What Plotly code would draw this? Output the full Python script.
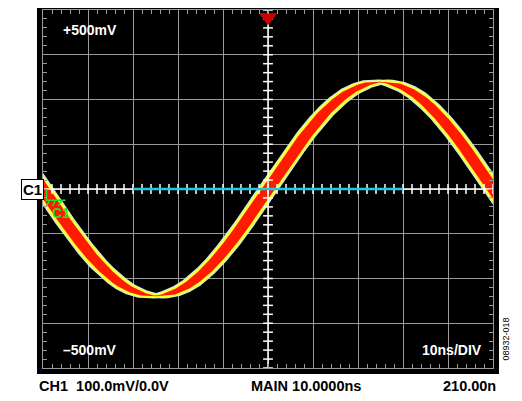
import numpy as np
import plotly.graph_objects as go

t_ns = [0, 2.5, 5, 7.5, 10, 12.5, 15, 17.5, 20, 22.5, 25, 27.5, 30, 32.5, 35, 37.5, 40, 42.5, 45, 47.5,
        50, 52.5, 55, 57.5, 60, 62.5, 65, 67.5, 70, 72.5, 75, 77.5, 80, 82.5, 85, 87.5, 90, 92.5, 95, 97.5, 100]
v_mv = [0, -37, -74, -109, -141, -170, -194, -214, -228, -237, -240, -237, -228, -214, -194, -170, -141, -109, -74, -37,
        0, 37, 74, 109, 141, 170, 194, 214, 228, 237, 240, 237, 228, 214, 194, 170, 141, 109, 74, 37, 0]
jitter_outer_ns = 1.9
jitter_inner_ns = 1.5
noise_outer_mv = 3
noise_inner_mv = 0
ref_line_ns = [20, 80]

O = 8  # browser page margin
W, H = 522, 401
L, T = 43 - O, 10 - O
PW, PH = 450, 358
R, B = W - L - PW, H - T - PH
def px(x): return (x - O - L) / PW
def py(y): return (H - B - (y - O)) / PH

tf = np.linspace(-5, 105, 2201)
tt = np.array(t_ns, float); vv = np.array(v_mv, float)
te = np.concatenate([tt[:-1] - 100, tt, tt[1:] + 100]); ve = np.concatenate([vv[:-1], vv, vv[1:]])
def band(j, a):
    a1 = np.interp(tf - j, te, ve); a2 = np.interp(tf + j, te, ve); a0 = np.interp(tf, te, ve)
    return np.maximum(np.maximum(a1, a2), a0) + a, np.minimum(np.minimum(a1, a2), a0) - a

fig = go.Figure()
def add_band(j, a, color):
    up, lo = band(j, a)
    fig.add_trace(go.Scatter(x=tf, y=lo, mode="lines", line=dict(width=0), hoverinfo="skip", showlegend=False))
    fig.add_trace(go.Scatter(x=tf, y=up, mode="lines", line=dict(width=0), fill="tonexty",
                             fillcolor=color, hoverinfo="skip", showlegend=False))
add_band(jitter_outer_ns + 0.2, noise_outer_mv + 2, "#c8f0d8")
add_band(jitter_outer_ns, noise_outer_mv, "#ffff30")
add_band(jitter_inner_ns, noise_inner_mv, "#ff1a00")

xt = np.arange(0, 100.1, 2); yt = np.arange(-400, 400.1, 20)
fig.add_trace(go.Scatter(x=[0, 100], y=[0, 0], mode="lines", line=dict(color="white", width=1.5), showlegend=False))
fig.add_trace(go.Scatter(x=[50, 50], y=[-400, 400], mode="lines", line=dict(color="white", width=1.5), showlegend=False))
fig.add_trace(go.Scatter(x=xt, y=[0]*len(xt), mode="markers", marker=dict(symbol="line-ns", size=7, line=dict(color="white", width=1.5)), showlegend=False))
fig.add_trace(go.Scatter(x=[50]*len(yt), y=yt, mode="markers", marker=dict(symbol="line-ew", size=7, line=dict(color="white", width=1.5)), showlegend=False))
fig.add_trace(go.Scatter(x=ref_line_ns, y=[0, 0], mode="lines", line=dict(color="#1ecbe1", width=2.5), showlegend=False))
fig.add_trace(go.Scatter(x=[50], y=[384], mode="markers", marker=dict(symbol="triangle-down", size=16, color="#cc0000"), showlegend=False, cliponaxis=False))

ax = dict(showgrid=True, gridcolor="#9a9a9a", gridwidth=1, zeroline=False, showticklabels=False,
          ticks="inside", ticklen=4, tickcolor="#9a9a9a", mirror="allticks", showline=True, linecolor="#9a9a9a",
          fixedrange=True)
fig.update_xaxes(range=[0, 100], dtick=10, minor=dict(dtick=2, ticks="inside", ticklen=4, tickcolor="#9a9a9a", showgrid=False), **ax)
fig.update_yaxes(range=[-400, 400], dtick=100, minor=dict(dtick=20, ticks="inside", ticklen=4, tickcolor="#9a9a9a", showgrid=False), **ax)

F = "Liberation Sans"
ann = [
    dict(x=px(61), y=py(30), text="<b>+500mV</b>", xanchor="left"),
    dict(x=px(61), y=py(350), text="<b>–500mV</b>", xanchor="left"),
    dict(x=px(484), y=py(350), text="<b>10ns/DIV</b>", xanchor="right"),
]
for a in ann:
    a.update(xref="paper", yref="paper", yanchor="middle", showarrow=False, font=dict(color="white", size=14, family=F))
ann.append(dict(x=px(50), y=py(213), xref="paper", yref="paper", text="<b>C1</b>", xanchor="left", yanchor="middle",
                showarrow=False, font=dict(color="#22dd22", size=14, family=F)))
for x, text, xa in [(37, "<b>CH1  100.0mV/0.0V</b>", "left"), (306, "<b>MAIN 10.0000ns</b>", "center"),
                    (498, "<b>210.00n</b>", "right")]:
    ann.append(dict(x=px(x), y=py(386), xref="paper", yref="paper", text=text, xanchor=xa, yanchor="middle",
                    showarrow=False, font=dict(color="black", size=14.5, family=F)))
ann.append(dict(x=px(512), y=py(363), xref="paper", yref="paper", text="08932-018", textangle=-90,
                showarrow=False, font=dict(size=9, family=F, color="black")))
ann.append(dict(x=px(21), y=py(189), xref="paper", yref="paper", text="<b>C1</b>", showarrow=False,
                font=dict(size=15, family=F, color="black"), bordercolor="black", borderwidth=1, bgcolor="white", borderpad=1))

shapes = [
    dict(type="rect", xref="paper", yref="paper", x0=px(39), x1=px(497), y0=py(372), y1=py(6),
         line=dict(color="black", width=4), layer="below", fillcolor="black"),
    dict(type="path", xref="paper", yref="paper",
         path=f"M {px(31)} {py(180)} L {px(41)} {py(189)} L {px(31)} {py(198)} Z",
         fillcolor="#22cc22", line=dict(color="#119911", width=1)),
    dict(type="path", xref="x", yref="y",
         path="M 0.8 0 L 0.8 -25 M 0.6 -25 L 5 -25 M 1.5 -25 L 0.8 -38 M 2.8 -25 L 2.1 -38 M 4.1 -25 L 3.4 -38",
         line=dict(color="#22dd22", width=1.5)),
]
fig.update_layout(width=W, height=H, margin=dict(l=L, r=R, t=T, b=B), paper_bgcolor="white",
                  plot_bgcolor="black", annotations=ann, shapes=shapes, showlegend=False)
fig.write_html("out.html")
